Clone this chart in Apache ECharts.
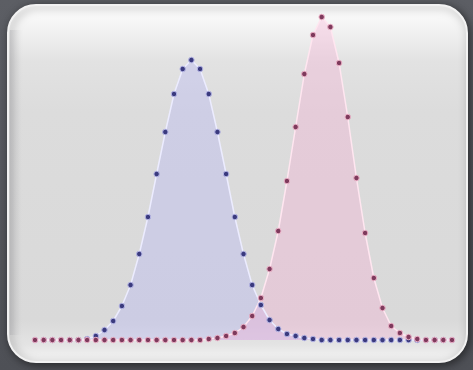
<!DOCTYPE html>
<html>
<head>
<meta charset="utf-8">
<script src="https://cdn.jsdelivr.net/npm/echarts@6/dist/echarts.min.js"></script>
<style>
html,body{margin:0;padding:0;background:#5a5c62;}
#chart{width:473px;height:370px;}
</style>
</head>
<body>
<div id="chart"></div>
<script>
var categories = ['0','1','2','3','4','5','6','7','8','9','10','11','12','13','14','15','16','17','18','19','20','21','22','23','24','25','26','27','28','29','30','31','32','33','34','35','36','37','38','39','40','41','42','43','44','45','46','47','48'];
var blueValues = [0,0,0,0,0,0,1,4,10,19,34,55,86,123,166,208,246,271,280,271,246,208,166,123,86,55,35,20,11,6,4,2,1,0,0,0,0,0,0,0,0,0,0,0,0,0,0,0,0];
var pinkValues = [0,0,0,0,0,0,0,0,0,0,0,0,0,0,0,0,0,0,0,0,1,2,4,7,13,24,42,71,109,159,213,266,305,323,313,277,223,162,107,62,32,14,7,3,1,0,0,0,0];

var chart = echarts.init(document.getElementById('chart'), null, {renderer:'canvas'});
chart.setOption({
  backgroundColor: new echarts.graphic.LinearGradient(0, 0, 0, 1, [
    {offset: 0, color: '#5c5e64'},
    {offset: 1, color: '#4e5056'}
  ]),
  animation: false,
  graphic: [
    {
      type: 'rect', z: -10, silent: true,
      shape: {x: 8, y: 5, width: 459, height: 357, r: 28},
      style: {
        fill: new echarts.graphic.LinearGradient(0, 0, 0, 1, [
          {offset: 0, color: '#ffffff'},
          {offset: 0.05, color: '#f6f6f6'},
          {offset: 0.16, color: '#e2e2e2'},
          {offset: 0.3, color: '#dcdcdc'},
          {offset: 0.88, color: '#d9d9d9'},
          {offset: 0.95, color: '#e4e4e4'},
          {offset: 1, color: '#f8f8f8'}
        ]),
        stroke: '#f2f2f2', lineWidth: 2,
        shadowBlur: 8, shadowColor: 'rgba(0,0,0,0.5)', shadowOffsetX: 2, shadowOffsetY: 2
      }
    },
    {
      type: 'rect', z: -9, silent: true,
      shape: {x: 10, y: 30, width: 14, height: 305, r: 0},
      style: {
        fill: new echarts.graphic.LinearGradient(0, 0, 1, 0, [
          {offset: 0, color: 'rgba(160,160,165,0.35)'},
          {offset: 1, color: 'rgba(220,220,220,0)'}
        ])
      }
    }
  ],
  grid: {left: 35, right: 21, top: 16, bottom: 30, containLabel: false},
  xAxis: {
    type: 'category', data: categories, boundaryGap: false,
    show: false
  },
  yAxis: {
    type: 'value', min: 0, max: 324, show: false, splitLine: {show: false}
  },
  series: [
    {
      name: 'blue', type: 'line', data: blueValues, clip: false,
      symbol: 'circle', symbolSize: 5.5, showAllSymbol: true,
      lineStyle: {color: '#ececff', width: 1.5},
      itemStyle: {color: '#3a3a7e', borderColor: '#b4b4e4', borderWidth: 1},
      areaStyle: {color: 'rgba(175,175,250,0.45)'}
    },
    {
      name: 'pink', type: 'line', data: pinkValues, clip: false,
      symbol: 'circle', symbolSize: 5.5, showAllSymbol: true,
      lineStyle: {color: '#ffe6f0', width: 1.5},
      itemStyle: {color: '#7e3a5c', borderColor: '#eab0c6', borderWidth: 1},
      areaStyle: {color: 'rgba(250,170,210,0.45)'}
    }
  ]
});
</script>
</body>
</html>
